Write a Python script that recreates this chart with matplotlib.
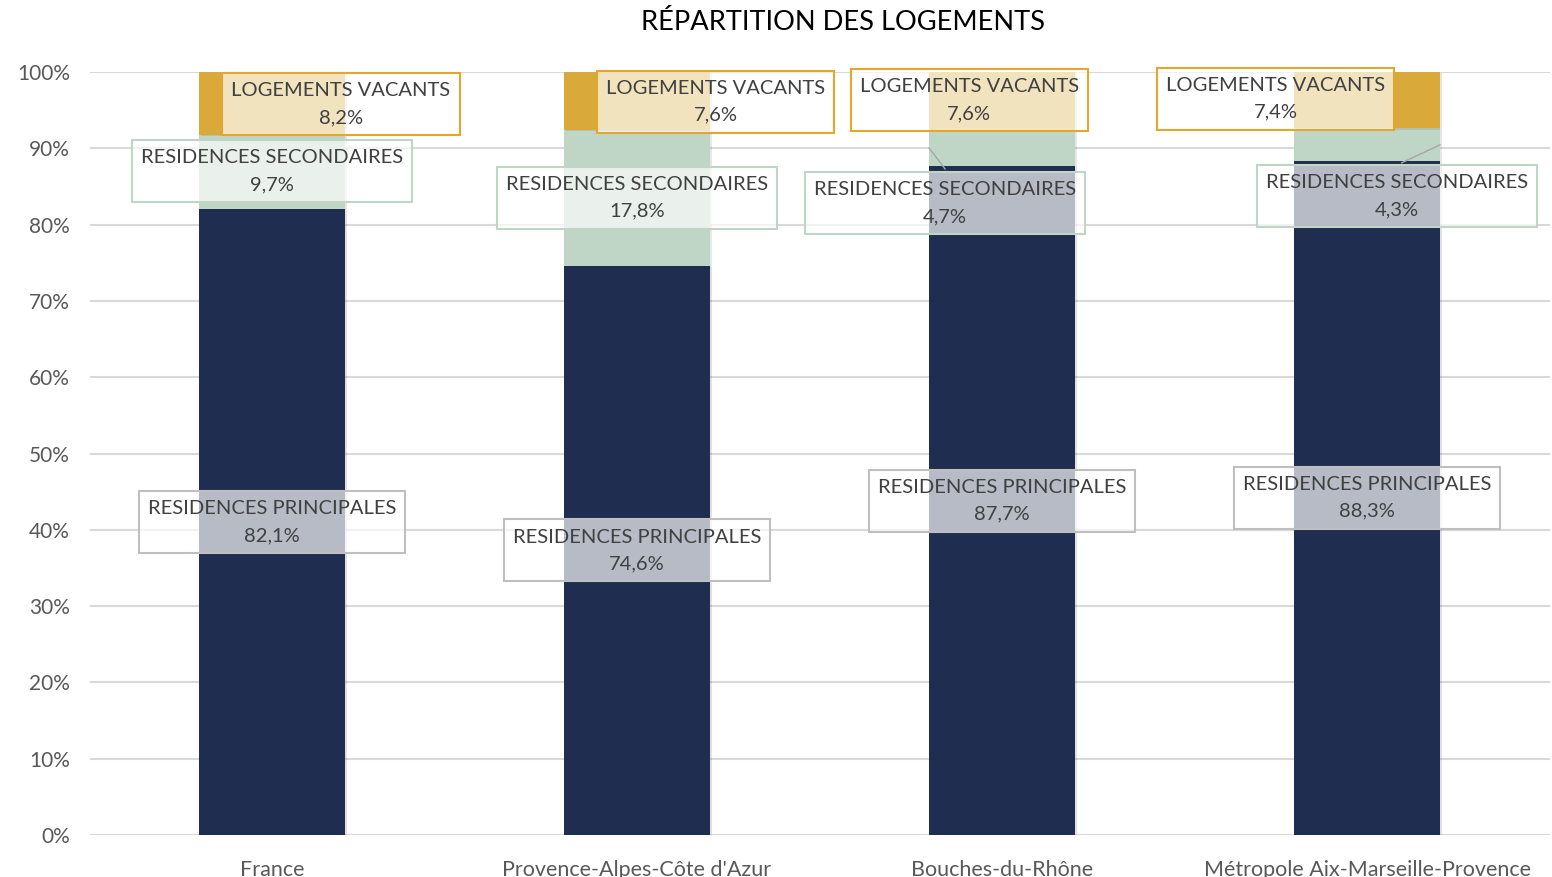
import matplotlib.pyplot as plt
import matplotlib.patheffects as pe
import numpy as np

# data
categories = ["France", "Provence-Alpes-Côte d'Azur", "Bouches-du-Rhône", "Métropole Aix-Marseille-Provence"]
principales = [82.1, 74.6, 87.7, 88.3]
secondaires = [9.7, 17.8, 4.7, 4.3]
vacants = [8.2, 7.6, 7.6, 7.4]
series_names = ["RESIDENCES PRINCIPALES", "RESIDENCES SECONDAIRES", "LOGEMENTS VACANTS"]
yticks = [0, 10, 20, 30, 40, 50, 60, 70, 80, 90, 100]

# label placement (x offset from bar centre, y in %) per series and category
lab_rp = [(0.0, 41.0), (0.0, 37.3), (0.0, 43.8), (0.0, 44.2)]
lab_rs = [(0.0, 87.0), (0.0, 83.5), (-0.156, 82.8), (0.082, 83.7)]
lab_lv = [(0.189, 95.8), (0.216, 96.1), (-0.09, 96.3), (-0.25, 96.5)]

navy = "#1F2D50"
green = "#BFD5C5"
gold = "#D9A93A"
txt = "#404040"

plt.rcParams["font.family"] = ["Lato", "DejaVu Sans"]

fig = plt.figure(figsize=(15.52, 8.77), dpi=100)
ax = fig.add_axes([89.5 / 1552, 42 / 877, 1460 / 1552, 763 / 877])

x = np.arange(len(categories))
w = 0.4
shadow = [pe.SimplePatchShadow(offset=(1.5, -1), alpha=0.12), pe.Normal()]
p = np.array(principales)
s = np.array(secondaires)
v = np.array(vacants)
ax.bar(x, p, w, color=navy, zorder=2, path_effects=shadow)
ax.bar(x, s, w, bottom=p, color=green, zorder=2, path_effects=shadow)
ax.bar(x, v, w, bottom=p + s, color=gold, zorder=2, path_effects=shadow)

ax.set_xlim(-0.5, 3.5)
ax.set_ylim(0, 100)
ax.set_yticks(yticks)
ax.set_yticklabels([f"{t}%" for t in yticks])
ax.set_xticks(x)
ax.set_xticklabels(categories)
ax.tick_params(axis="both", length=0, labelcolor="#595959")
ax.tick_params(axis="y", pad=14, labelsize=15)
ax.tick_params(axis="x", pad=18, labelsize=15.5)
ax.grid(axis="y", color="#D9D9D9", lw=1.5, zorder=0)
for sp in ax.spines.values():
    sp.set_visible(False)


def label(xc, yc, name, val, edge):
    ax.text(xc, yc, f"{name}\n{val:.1f}%".replace(".", ","), ha="center", va="center",
            fontsize=14.5, color=txt, linespacing=1.7, zorder=5,
            bbox=dict(boxstyle="square,pad=0.45", fc=(1, 1, 1, 0.68), ec=edge, lw=1.5))


for i in range(len(categories)):
    dx, dy = lab_rp[i]
    label(x[i] + dx, dy, series_names[0], p[i], "#BFBFBF")
    dx, dy = lab_rs[i]
    label(x[i] + dx, dy, series_names[1], s[i], "#BFD5C5")
    dx, dy = lab_lv[i]
    label(x[i] + dx, dy, series_names[2], v[i], "#E3A82B")

# leader lines for the thin segments
mid2 = p[2] + s[2] / 2
ax.plot([x[2] - w / 2, x[2] - 0.156], [mid2, 87.3], color="#A6A6A6", lw=1, zorder=4)
mid3 = p[3] + s[3] / 2
ax.plot([x[3] + w / 2, x[3] + 0.095], [mid3, 88.1], color="#A6A6A6", lw=1, zorder=4)

fig.text(843 / 1552, 1 - 22 / 877, "RÉPARTITION DES LOGEMENTS", ha="center", va="center",
         fontsize=19.6, color="black")

fig.savefig("out.png", dpi=100)
